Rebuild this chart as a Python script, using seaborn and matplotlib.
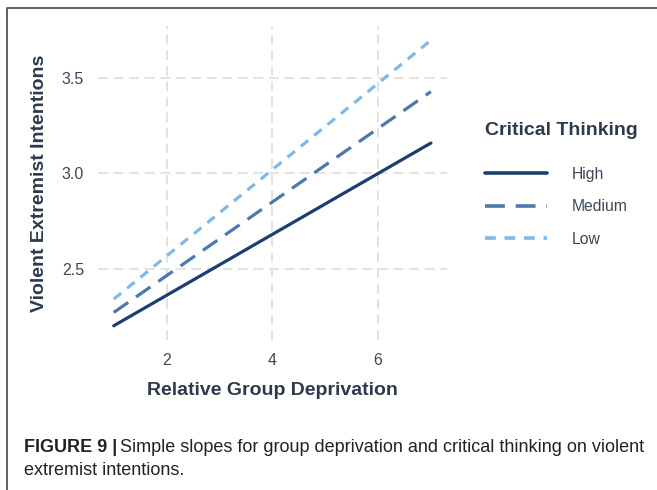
"""
Simple slopes: relative group deprivation x critical thinking.
"""

import numpy as np
import pandas as pd
import matplotlib
matplotlib.use("Agg")
import matplotlib.pyplot as plt
from matplotlib.lines import Line2D
import seaborn as sns

# Data (endpoints of each simple slope)
deprivation = [1, 7]
levels = ["High", "Medium", "Low"]
high_vals = [2.20, 3.16]
medium_vals = [2.27, 3.43]
low_vals = [2.34, 3.70]

x_ticks = [2, 4, 6]
y_ticks = [2.5, 3.0, 3.5]

colors = {"High": "#1b3f70", "Medium": "#4b78ae", "Low": "#80b8e8"}
dashes = {"High": "", "Medium": (5.5, 3), "Low": (3, 2.4)}

df = pd.DataFrame({
    "Relative Group Deprivation": deprivation * 3,
    "Violent Extremist Intentions": high_vals + medium_vals + low_vals,
    "Critical Thinking": [lv for lv in levels for _ in deprivation],
})

sns.set_theme(style="white")
plt.rcParams["font.family"] = ["Liberation Sans", "DejaVu Sans"]

fig = plt.figure(figsize=(6.57, 4.90), dpi=100)
ax = fig.add_axes([0.149, 0.306, 0.531, 0.641])

sns.lineplot(data=df, x="Relative Group Deprivation", y="Violent Extremist Intentions",
             hue="Critical Thinking", style="Critical Thinking",
             hue_order=levels, style_order=levels,
             palette=colors, dashes=dashes, linewidth=2.3, ax=ax, legend=False)

ax.set_xlim(0.7, 7.3)
ax.set_ylim(2.125, 3.775)
ax.set_xticks(x_ticks)
ax.set_yticks(y_ticks)
ax.set_xticklabels([str(t) for t in x_ticks])
ax.set_yticklabels([f"{t:.1f}" for t in y_ticks])
ax.grid(True, color="#e2e2e2", linestyle=(0, (5, 3)), linewidth=1.4)
ax.set_axisbelow(True)
for s in ax.spines.values():
    s.set_visible(False)
ax.tick_params(axis="both", length=0, labelsize=11.5, labelcolor="#3c4857")
ax.tick_params(axis="x", pad=9)
ax.tick_params(axis="y", pad=10)
ax.set_xlabel("Relative Group Deprivation", fontsize=14, fontweight="bold",
              color="#2b3a4d", labelpad=10.5)
ax.set_ylabel("Violent Extremist Intentions", fontsize=14, fontweight="bold",
              color="#2b3a4d", labelpad=10)

# legend: title placed separately so the gap to the keys matches
fig.text(485 / 657, 1 - 130 / 490, "Critical Thinking", fontsize=14,
         fontweight="bold", color="#2b3a4d", ha="left", va="center")
handles = [Line2D([0], [0], color=colors[lv], lw=2.6,
                  dashes=dashes[lv] if dashes[lv] else (None, None),
                  linestyle="-") for lv in levels]
leg = fig.legend(handles, levels, loc="upper left",
                 bbox_to_anchor=(0.722, 1 - 156 / 490),
                 frameon=False, fontsize=11.3,
                 handlelength=3.9, handletextpad=1.6, labelspacing=1.1,
                 borderpad=0.2)
for t in leg.get_texts():
    t.set_color("#3c4857")

# outer frame (open to the right and bottom)
fig.add_artist(Line2D([7 / 657, 7 / 657, 1.0], [0.0, 1 - 8 / 490, 1 - 8 / 490],
                      transform=fig.transFigure, color="#555555", lw=1.3))

cap_font = ["Liberation Sans Narrow", "Liberation Sans", "DejaVu Sans"]
t1 = fig.text(24 / 657, 1 - 447 / 490, "FIGURE 9 |", fontsize=13, fontweight="bold",
              va="center", ha="left", family=cap_font, color="#222222")
fig.canvas.draw()
bb = t1.get_window_extent()
fig.text(bb.x1 / fig.bbox.width + 0.004, 1 - 447 / 490,
         "Simple slopes for group deprivation and critical thinking on violent",
         fontsize=13, va="center", ha="left", family=cap_font, color="#222222")
fig.text(24 / 657, 1 - 470 / 490, "extremist intentions.", fontsize=13,
         va="center", ha="left", family=cap_font, color="#222222")

fig.savefig("out.png", dpi=100)
